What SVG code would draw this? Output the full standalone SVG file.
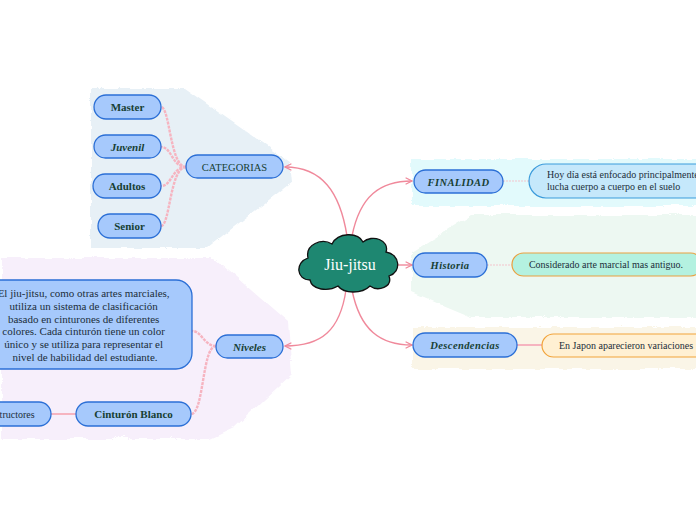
<svg xmlns="http://www.w3.org/2000/svg" width="696" height="520" viewBox="0 0 696 520">
<defs>
<filter id="wavy" x="-5%" y="-5%" width="110%" height="110%">
<feTurbulence type="turbulence" baseFrequency="0.045 0.045" numOctaves="1" seed="5" result="n"/>
<feDisplacementMap in="SourceGraphic" in2="n" scale="6" xChannelSelector="R" yChannelSelector="G"/>
</filter>
<marker id="arr" viewBox="0 0 10 10" refX="9" refY="5" markerWidth="8" markerHeight="8" orient="auto" markerUnits="userSpaceOnUse">
<path d="M1 1 L9 5 L1 9" fill="none" stroke="#f0899b" stroke-width="1.5"/>
</marker>
<style>
.node{fill:#a6c9fc;stroke:#2b6fd6;stroke-width:1.3}
.lbl{font-family:"Liberation Serif",serif;fill:#173f33;text-anchor:middle}
.fancy{font-weight:bold;font-size:11px}
.bi{font-weight:bold;font-style:italic;font-size:10.5px;letter-spacing:0.4px}
.body{font-family:"Liberation Serif",serif;font-size:10px;fill:#1c2e3a}
.big{font-size:11px}
.main{fill:none;stroke:#f0899b;stroke-width:1.4}
.sub{fill:none;stroke:#f6b4c0;stroke-width:2.4;stroke-dasharray:3 1}
</style>
</defs>
<rect width="696" height="520" fill="#ffffff"/>
<g id="backgrounds" filter="url(#wavy)">
<polygon points="89,86 182,86 288,160 290,180 205,246 89,246" fill="#e7f0f6"/>
<polygon points="0,256 212,256 286,320 290,372 232,426 208,437 0,437" fill="#f7effb"/>
<rect x="410" y="157" width="292" height="47" fill="#e2fafc"/>
<polygon points="470,213 702,213 702,315 470,315 410,290 410,250" fill="#edf8f2"/>
<rect x="410" y="325" width="292" height="42" fill="#faf5e7"/>
</g>
<g id="connectors">
<path class="main" d="M347 236 C340 192 322 167 285 167" marker-end="url(#arr)"/>
<path class="main" d="M352 236 C360 196 380 181 412 181" marker-end="url(#arr)"/>
<path class="main" d="M397 265 L412 265" marker-end="url(#arr)"/>
<path class="main" d="M352 290 C360 330 380 345 412 345" marker-end="url(#arr)"/>
<path class="main" d="M346 290 C340 330 322 346 285 346" marker-end="url(#arr)"/>
<path class="sub" d="M186 167 C170 167 170 107 161 107"/>
<path class="sub" d="M186 167 C172 167 172 147 161 147"/>
<path class="sub" d="M186 167 C172 167 172 186 161 186"/>
<path class="sub" d="M186 167 C170 167 170 226 161 226"/>
<path class="sub" d="M216 346 C204 346 202 331 192 331"/>
<path class="sub" d="M216 346 C202 346 204 414 191 414"/>
<path d="M51 414 L76 414" stroke="#f6b4c0" stroke-width="2"/>
<path d="M503 181 L529 181" stroke="#f3c4cc" stroke-width="1" stroke-dasharray="2 1"/>
<path d="M487 265 L512 265" stroke="#f3c4cc" stroke-width="1" stroke-dasharray="2 1"/>
<path d="M517 345 L542 345" stroke="#f6b4c0" stroke-width="2"/>
</g>
<g id="center">
<path d="M310 280 C296 280 295 262 308 258 C305 244 322 238 332 244 C338 232 358 232 363 242 C372 234 390 240 386 252 C400 254 402 272 389 276 C393 287 378 292 370 286 C362 294 344 294 338 286 C328 292 312 290 310 280 Z" fill="#1e8771" stroke="#111" stroke-width="1.3"/>
<text x="350" y="270" font-family="Liberation Serif,serif" font-size="16" fill="#ffffff" text-anchor="middle">Jiu-jitsu</text>
</g>
<g id="categorias">
<rect class="node" x="186" y="155" width="97" height="23" rx="11.5"/>
<text class="lbl" x="234.5" y="170.5" font-size="10.5">CATEGORIAS</text>
</g>
<g id="master">
<rect class="node" x="94" y="95" width="67" height="24" rx="12"/>
<text class="lbl fancy" x="127.5" y="111">Master</text>
</g>
<g id="juvenil">
<rect class="node" x="94" y="135" width="67" height="23" rx="11.5"/>
<text class="lbl fancy" x="127.5" y="150.5" font-style="italic">Juvenil</text>
</g>
<g id="adultos">
<rect class="node" x="93" y="174" width="68" height="24" rx="12"/>
<text class="lbl fancy" x="127" y="190">Adultos</text>
</g>
<g id="senior">
<rect class="node" x="98" y="214" width="63" height="24" rx="12"/>
<text class="lbl fancy" x="129.5" y="230">Senior</text>
</g>
<g id="finalidad">
<rect class="node" x="414" y="170" width="89" height="23" rx="11.5"/>
<text class="lbl bi" x="458.5" y="185.5">FINALIDAD</text>
</g>
<g id="finalidad-text">
<rect x="529" y="164" width="190" height="34" rx="17" fill="#c5e8fb" stroke="#3b9bdb" stroke-width="1.2"/>
<text class="body" x="547" y="178">Hoy día está enfocado principalmente</text>
<text class="body" x="547" y="190">lucha cuerpo a cuerpo en el suelo</text>
</g>
<g id="historia">
<rect class="node" x="413" y="253" width="74" height="24" rx="12"/>
<text class="lbl bi" x="450" y="269">Historia</text>
</g>
<g id="historia-text">
<rect x="512" y="253" width="190" height="23" rx="11.5" fill="#b4f1e0" stroke="#eaa040" stroke-width="1.2"/>
<text class="body" x="606" y="268" text-anchor="middle">Considerado arte marcial mas antiguo.</text>
</g>
<g id="descendencias">
<rect class="node" x="413" y="333" width="104" height="24" rx="12"/>
<text class="lbl bi" x="465" y="349">Descendencias</text>
</g>
<g id="descendencias-text">
<rect x="542" y="334" width="170" height="23" rx="11.5" fill="#fff0d3" stroke="#f2a33a" stroke-width="1.2"/>
<text class="body" x="559" y="349">En Japon aparecieron variaciones</text>
</g>
<g id="niveles">
<rect class="node" x="216" y="335" width="67" height="23" rx="11.5"/>
<text class="lbl fancy" x="249.5" y="350.5" font-style="italic">Niveles</text>
</g>
<g id="niveles-text">
<rect class="node" x="-30" y="280" width="222" height="89" rx="16"/>
<text class="body big" text-anchor="middle">
<tspan x="85" y="297">El jiu-jitsu, como otras artes marciales,</tspan>
<tspan x="85" y="310">utiliza un sistema de clasificación</tspan>
<tspan x="85" y="323">basado en cinturones de diferentes</tspan>
<tspan x="85" y="335">colores. Cada cinturón tiene un color</tspan>
<tspan x="85" y="348">único y se utiliza para representar el</tspan>
<tspan x="85" y="361">nivel de habilidad del estudiante.</tspan>
</text>
</g>
<g id="cinturon-blanco">
<rect class="node" x="76" y="402" width="115" height="24" rx="12"/>
<text class="lbl" x="133.5" y="418" font-weight="bold" font-size="11">Cinturón Blanco</text>
</g>
<g id="instructores">
<rect class="node" x="-30" y="402" width="81" height="24" rx="12"/>
<text class="body" x="11" y="418" text-anchor="middle">Instructores</text>
</g>
</svg>
